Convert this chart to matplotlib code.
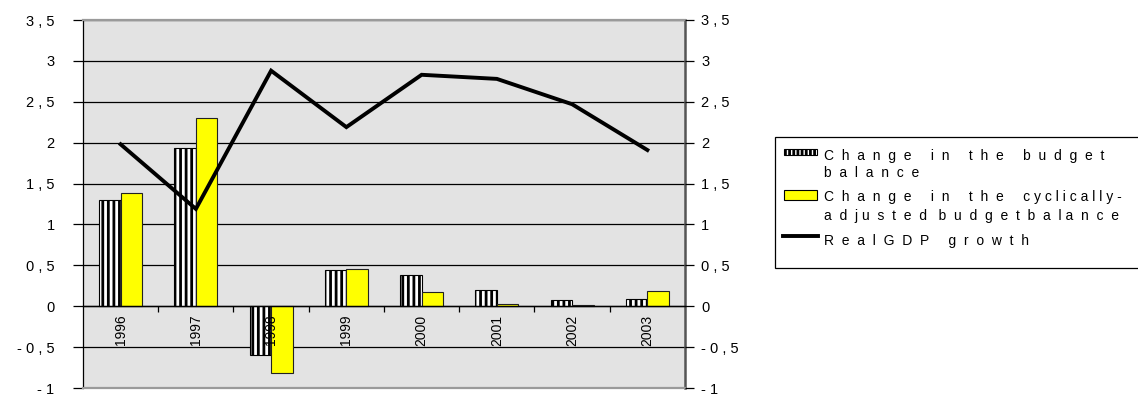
import matplotlib
matplotlib.use("Agg")
import matplotlib.pyplot as plt
from matplotlib.patches import Rectangle
from matplotlib.lines import Line2D
import numpy as np

years = ["1996", "1997", "1998", "1999", "2000", "2001", "2002", "2003"]
budget_change = [1.30, 1.93, -0.60, 0.44, 0.38, 0.20, 0.08, 0.09]
cyclical_change = [1.39, 2.30, -0.82, 0.46, 0.17, 0.025, 0.015, 0.19]
gdp_growth = [1.98, 1.19, 2.88, 2.19, 2.83, 2.78, 2.47, 1.91]

ytick_vals = [-1, -0.5, 0, 0.5, 1, 1.5, 2, 2.5, 3, 3.5]
ytick_labels = ["- 1", "- 0 , 5", "0", "0 , 5", "1", "1 , 5", "2", "2 , 5", "3", "3 , 5"]

# legend rows, letter-spaced like the original export
legend_rows = [
    "C  h  a  n  g  e     i  n     t  h  e     b  u  d  g  e  t",
    "b  a  l  a  n  c  e",
    "C  h  a  n  g  e     i  n     t  h  e     c y c l i c a l l y -",
    "a  d  j u  s  t  e  d   b  u  d  g  e  t  b  a  l a  n  c  e",
    "R  e  a  l  G  D  P     g  r  o  w  t  h",
]

plt.rcParams["font.family"] = ["Liberation Sans", "DejaVu Sans"]
plt.rcParams["hatch.linewidth"] = 2.0

W, H = 1138, 396
fig = plt.figure(figsize=(W / 100, H / 100), dpi=100)
ax = fig.add_axes([83 / W, 1 - 388 / H, (685 - 83) / W, (388 - 20) / H])
ax.set_facecolor("#e3e3e3")

ymin, ymax = -1, 3.5
x = np.arange(len(years))
bw = 0.286

ax.bar(x - bw / 2, budget_change, bw, color="white", edgecolor="black",
       hatch="|||", linewidth=0.8, zorder=3)
ax.bar(x + bw / 2, cyclical_change, bw, color="#ffff00", edgecolor="#222222",
       linewidth=0.8, zorder=3)

ax.set_xlim(-0.5, len(years) - 0.5)
ax.set_ylim(ymin, ymax)
ax.set_yticks(ytick_vals)
ax.set_yticklabels(ytick_labels, fontsize=10.5)
ax.yaxis.grid(True, color="black", linewidth=0.9)
ax.set_axisbelow(True)
ax.tick_params(axis="y", direction="out", length=7.5, width=0.9, pad=13)
ax.set_xticks([])

for s in ["top", "bottom"]:
    ax.spines[s].set_color("#9a9a9a")
    ax.spines[s].set_linewidth(1.6)
ax.spines["left"].set_color("black")
ax.spines["left"].set_linewidth(0.9)
ax.spines["right"].set_color("#555555")
ax.spines["right"].set_linewidth(1.8)

# category axis sits on the zero line
loc = (0 - ymin) / (ymax - ymin)
sec = ax.secondary_xaxis(loc)
sec.set_zorder(3.5)
sec.set_xticks(x)
sec.set_xticklabels(years, rotation=90, fontsize=10, va="top")
sec.set_xticks(x[:-1] + 0.5, minor=True)
sec.tick_params(axis="x", which="major", length=0, pad=6)
sec.tick_params(axis="x", which="minor", direction="out", length=4.5, width=0.9)
sec.spines["bottom"].set_color("black")
sec.spines["bottom"].set_linewidth(1.0)

ax2 = ax.twinx()
ax2.set_ylim(ymin, ymax)
ax2.set_yticks(ytick_vals)
ax2.set_yticklabels(ytick_labels, fontsize=10.5)
ax2.tick_params(axis="y", direction="out", length=6.5, width=0.9, pad=5)
for s in ["top", "bottom", "left", "right"]:
    ax2.spines[s].set_visible(False)
ax2.plot(x, gdp_growth, color="black", linewidth=2.8, solid_joinstyle="miter",
         zorder=4)


# legend box, drawn by hand to mimic the wide letter spacing
def fx(px):
    return px / W


def fy(py):
    return 1 - py / H


fig.patches.append(Rectangle((fx(775), fy(268)), fx(380), (268 - 137) / H,
                             transform=fig.transFigure, facecolor="white",
                             edgecolor="black", linewidth=0.9))
fig.patches.append(Rectangle((fx(784), fy(155)), fx(33), 6 / H,
                             transform=fig.transFigure, facecolor="white",
                             edgecolor="black", hatch="||||", linewidth=0.8))
fig.patches.append(Rectangle((fx(784), fy(200)), fx(33), 10 / H,
                             transform=fig.transFigure, facecolor="#ffff00",
                             edgecolor="black", linewidth=0.8))
fig.lines.append(Line2D([fx(783), fx(818)], [fy(236), fy(236)],
                        transform=fig.transFigure, color="black", linewidth=2.8))

row_baselines = [160, 177, 201, 220, 245]
for base, label in zip(row_baselines, legend_rows):
    fig.text(fx(824), fy(base), label, fontsize=10, va="baseline", ha="left")

fig.savefig("out.png", dpi=100)
